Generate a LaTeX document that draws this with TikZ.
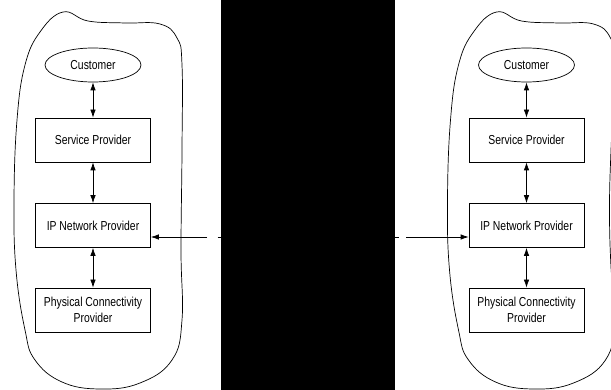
\documentclass[tikz,border=0pt]{standalone}
\usepackage{fontspec}
\setmainfont{Liberation Sans}[FakeStretch=0.8]
\usetikzlibrary{arrows.meta, shapes.geometric, positioning}

\begin{document}
\begin{tikzpicture}[x=1pt, y=-1pt, >={Latex[length=8pt,width=5.5pt]},
    line width=0.7pt,
    every node/.style={font=\fontsize{13}{16}\selectfont, align=center},
    role/.style={draw, minimum width=115pt, minimum height=44pt, inner sep=1pt},
    party/.style={draw, ellipse, minimum width=96pt, minimum height=34pt, inner sep=0pt}]
    % Khung hinh
    \clip (0,0) rectangle (611,390);

    % Hai vung bao
    \draw plot[smooth cycle, tension=0.7] coordinates {(63,12) (88,21) (125,23) (160,24)
        (177,38) (182,65) (182,150) (181,250) (182,320) (172,360) (140,383) (100,389)
        (62,382) (35,360) (25,330) (16,270) (14,200) (17,120) (25,65) (40,32)};
    \draw plot[smooth cycle, tension=0.7] coordinates {(496.5,12) (521.5,21) (558.5,23) (593.5,24)
        (610.5,38) (615,65) (611,150) (609.5,210) (611,267) (615,320) (605.5,360) (573.5,383)
        (533.5,389) (495.5,382) (468.5,360) (458.5,330) (449.5,270) (447.5,200) (450.5,120)
        (458.5,65) (473.5,32)};

    % Cac tang
    \foreach \s/\cx in {L/93, R/526.5} {
        \node[party] (cust\s) at (\cx,65) {Customer};
        \node[role] (sp\s) at (\cx,140) {Service Provider};
        \node[role] (ip\s) at (\cx,225.5) {IP Network Provider};
        \node[role] (phys\s) at (\cx,310) {Physical Connectivity\\Provider};
        \draw[<->] (cust\s) -- (sp\s);
        \draw[<->] (sp\s) -- (ip\s);
        \draw[<->] (ip\s) -- (phys\s);
    }

    % Lien ket giua hai ben
    \coordinate (linkL) at (207,237);
    \coordinate (linkR) at (406,237);
    \draw[->] (linkL) -- (linkL -| ipL.east);
    \draw[->] (linkR) -- (linkR -| ipR.west);
    \coordinate (dashL) at (217.5,237);
    \coordinate (dashR) at (395,237);
    \draw (dashL) -- ++(4,0);
    \draw (dashR) -- ++(3.5,0);

    % Vung che
    \fill (221,0) rectangle (395,390);
\end{tikzpicture}
\end{document}
